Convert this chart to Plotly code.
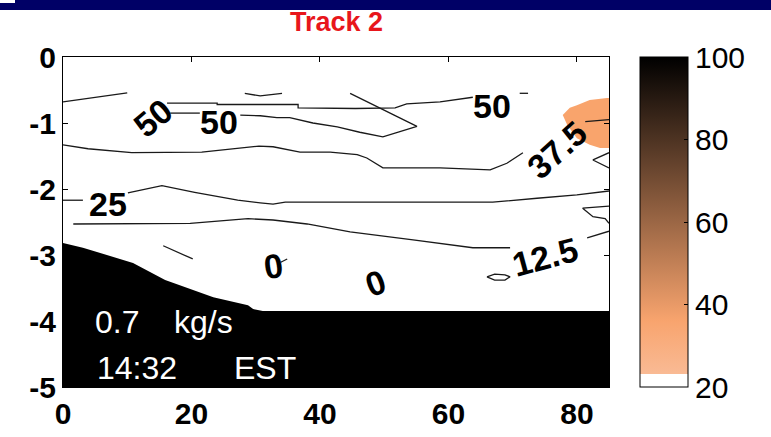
import plotly.graph_objects as go

# ---------------- data ----------------
x_ticks = [0, 20, 40, 60, 80]
y_ticks = [0, -1, -2, -3, -4, -5]
y_ticktext = ["0", "-1", "-2", "-3", "-4", "-5"]
cbar_ticks = [20, 40, 60, 80, 100]

# contour level 50 (segments separated by None)
c50_x = [0, 5.0, 10.0, None,
         28.3, 30.7, 34.1, None,
         16.2, 24.0, 24.0, 36.6, 36.6, 45.5, 51.7, 53.5, 58.7, 63.8, None,
         71.1, 72.4, None,
         16.7, 21.3, None,
         27.6, 30.7, 33.3, 35.3, 38.9, 42.7, 46.2, 48.3, 49.8, 55.1, 49.0, 44.7]
c50_y = [-0.68, -0.61, -0.545, None,
         -0.55, -0.59, -0.55, None,
         -0.70, -0.70, -0.72, -0.72, -0.77, -0.78, -0.77, -0.71, -0.68, -0.61, None,
         -0.55, -0.55, None,
         -0.85, -0.85, None,
         -0.88, -0.89, -0.92, -0.92, -1.0, -1.06, -1.14, -1.18, -1.21, -1.05, -0.76, -0.55]

# contour level 37.5
c375_x = [0, 3.9, 10.7, 21.6, 30.5, 32.7, 36.9, 41.6, 45.8, 47.3, 49.8, 58.7, 66.5, 69.1, 71.6, None,
          81.3, 85.0, None,
          85.0, 82.5, 85.0]
c375_y = [-1.33, -1.39, -1.45, -1.44, -1.35, -1.36, -1.44, -1.44, -1.48, -1.53, -1.68, -1.68, -1.71, -1.61, -1.45, None,
          -0.98, -0.95, None,
          -1.45, -1.56, -1.68]

# contour level 25
c25_x = [0, 3.1, None,
         10.1, 15.4, 20.5, 27.2, 30.7, 32.7, 34.6, 58.7, 66.9, 73.8, 80.0, 85.0, None,
         85.0, 80.9, 82.5, 84.4, 85.0]
c25_y = [-2.17, -2.17, None,
         -2.06, -1.95, -2.05, -2.17, -2.21, -2.23, -2.20, -2.20, -2.20, -2.14, -2.09, -2.03, None,
         -2.26, -2.29, -2.42, -2.45, -2.52]

# contour level 12.5
c125_x = [1.6, 10.7, 19.8, 28.8, 32.7, 38.0, 44.7, 54.5, 63.8, 69.6, None,
          81.6, 85.0, None,
          15.6, 20.2, None,
          66.0, 67.2, 68.8, 69.6, 68.8, 67.2, 66.0]
c125_y = [-2.53, -2.52, -2.52, -2.45, -2.47, -2.53, -2.65, -2.77, -2.89, -2.89, None,
          -2.74, -2.64, None,
          -2.86, -3.06, None,
          -3.33, -3.29, -3.30, -3.33, -3.38, -3.38, -3.33]

# contour level 0 (tiny piece)
c0_x = [33.9, 34.9]
c0_y = [-3.11, -3.06]

# bottom (black) region
bottom_x = [0, 3.1, 10.9, 15.9, 17.1, 23.4, 28.8, 29.6, 31.1, 85, 85, 0]
bottom_y = [-2.82, -2.89, -3.12, -3.38, -3.42, -3.64, -3.76, -3.82, -3.85, -3.85, -5, -5]

# filled patch at upper right
patch_x = [77.8, 78.9, 80.0, 82.0, 84.7, 85, 85, 83.6, 82.0, 80.0, 78.5, 77.8]
patch_y = [-0.88, -0.77, -0.73, -0.65, -0.62, -0.62, -1.38, -1.38, -1.33, -1.23, -1.03, -0.88]

# contour labels: text, x, y, angle
label_text = ["50", "50", "50", "37.5", "25", "12.5", "0", "0"]
label_x = [14.0, 24.3, 66.8, 76.9, 7.0, 75.0, 32.7, 48.7]
label_y = [-0.92, -0.98, -0.74, -1.41, -2.23, -3.03, -3.17, -3.42]
label_angle = [-40, 0, 0, -42, 0, -15, -8, -20]

# ---------------- figure ----------------
FONT = "Liberation Sans, Arial, Helvetica, sans-serif"
LINE = dict(color="#1a1a1a", width=1.3)

fig = go.Figure()

fig.add_trace(go.Scatter(x=patch_x, y=patch_y, mode="lines", fill="toself",
                         fillcolor="#F9A46C", line=dict(width=0, color="#F9A46C"),
                         hoverinfo="skip"))
for xs, ys in [(c50_x, c50_y), (c375_x, c375_y), (c25_x, c25_y), (c125_x, c125_y), (c0_x, c0_y)]:
    fig.add_trace(go.Scatter(x=xs, y=ys, mode="lines", line=LINE, connectgaps=False,
                             hoverinfo="skip"))
fig.add_trace(go.Scatter(x=bottom_x, y=bottom_y, mode="lines", fill="toself",
                         fillcolor="black", line=dict(width=0, color="black"),
                         hoverinfo="skip"))

# colorbar carrier (copper-like, reversed, white bottom band)
cscale = [[0.0, "#ffffff"], [0.04, "#ffffff"], [0.04, "#F9BA94"],
          [0.2, "#F8A46E"], [1.0, "#000000"]]
fig.add_trace(go.Scatter(
    x=[-100, -100], y=[-100, -100], mode="markers",
    marker=dict(color=[20, 100], cmin=20, cmax=100, colorscale=cscale, size=1, opacity=0,
                showscale=True,
                colorbar=dict(x=(640 - 63) / 546, xanchor="left", xpad=0, ypad=0,
                              y=0.5, yanchor="middle", len=1, lenmode="fraction",
                              thickness=48, thicknessmode="pixels",
                              outlinewidth=1, outlinecolor="black",
                              tickvals=cbar_ticks, ticks="inside", ticklen=4,
                              tickcolor="black",
                              tickfont=dict(family=FONT, size=30, color="black"))),
    hoverinfo="skip"))

ann = []
for t, x, y, a in zip(label_text, label_x, label_y, label_angle):
    ann.append(dict(x=x, y=y, xref="x", yref="y", text=t, showarrow=False, textangle=a,
                    font=dict(family=FONT, size=34, color="black", weight="bold")))
# white annotations in black region
for t, x, y in [("0.7", 4.67, -4.02), ("kg/s", 17.0, -4.02), ("14:32", 5.0, -4.71), ("EST", 26.3, -4.71)]:
    ann.append(dict(x=x, y=y, xref="x", yref="y", text=t, showarrow=False, xanchor="left",
                    yanchor="middle", font=dict(family=FONT, size=32, color="white")))
# title
ann.append(dict(x=0.5, y=1 + (57 - 22) / 330, xref="paper", yref="paper", text="Track 2",
                showarrow=False, xanchor="center", yanchor="middle",
                font=dict(family=FONT, size=27, color="#e8161b", weight="bold")))

shapes = [
    dict(type="rect", xref="paper", yref="paper", x0=-63 / 546, x1=708 / 546,
         y0=1 + 47 / 330, y1=1 + 60 / 330, fillcolor="#000066", line=dict(width=0), layer="above"),
    dict(type="rect", xref="paper", yref="paper", x0=-63 / 546, x1=-48 / 546,
         y0=1 + 54 / 330, y1=1 + 60 / 330, fillcolor="white", line=dict(width=0), layer="above"),
]

fig.update_layout(
    width=771, height=437,
    margin=dict(l=63, r=162, t=57, b=50, pad=0),
    plot_bgcolor="white", paper_bgcolor="white",
    showlegend=False,
    annotations=ann, shapes=shapes,
    xaxis=dict(range=[0, 85], tickvals=x_ticks, ticks="inside", ticklen=5, tickcolor="black",
               showline=True, linecolor="black", linewidth=1, mirror="ticks",
               showgrid=False, zeroline=False, ticklabelstandoff=0, automargin=False,
               tickfont=dict(family=FONT, size=30, color="black", weight="bold")),
    yaxis=dict(range=[-5, 0], tickvals=y_ticks, ticktext=y_ticktext, ticks="inside", ticklen=5,
               tickcolor="black", showline=True, linecolor="black", linewidth=1, mirror="ticks",
               showgrid=False, zeroline=False, ticklabelstandoff=0, automargin=False,
               tickfont=dict(family=FONT, size=30, color="black", weight="bold")),
)

fig.write_html("out.html", config={"displayModeBar": False},
               post_script="document.body.style.margin='0';document.body.style.overflow='hidden';")
